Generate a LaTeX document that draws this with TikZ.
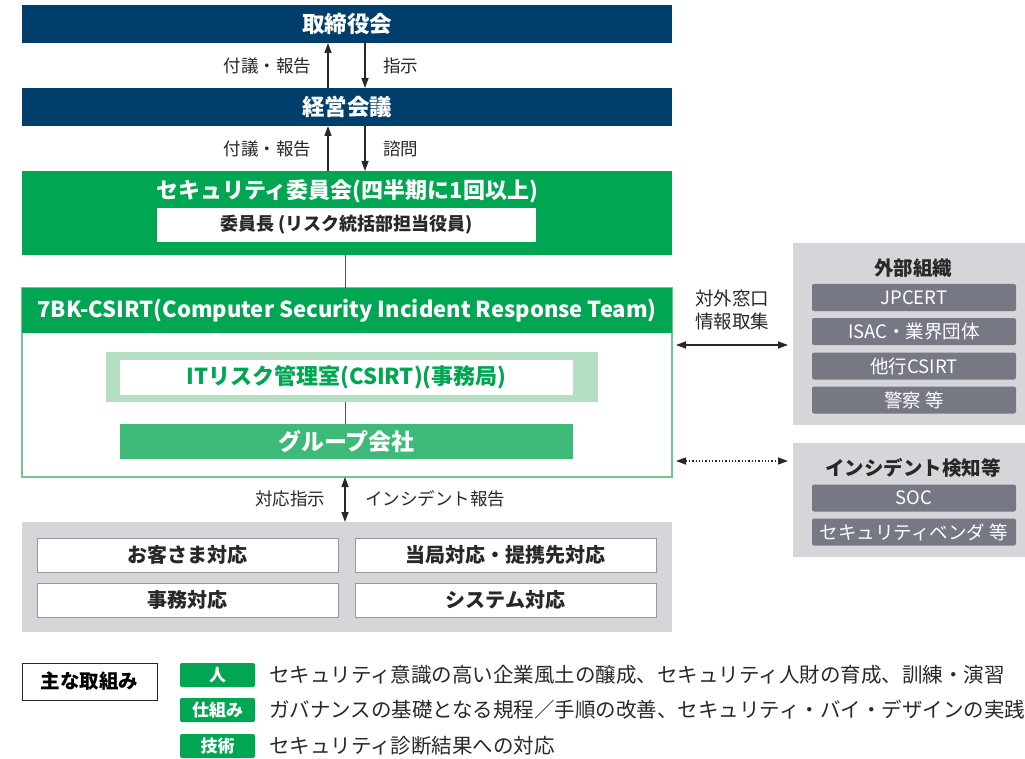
\documentclass[tikz,border=0pt]{standalone}
\usepackage{fontspec}
\setmainfont{Noto Sans CJK JP}
\usetikzlibrary{arrows.meta}

\definecolor{navy}{RGB}{0,63,108}
\definecolor{sgreen}{RGB}{0,166,81}
\definecolor{lgreen}{RGB}{110,200,145}
\definecolor{pgreen}{RGB}{181,223,195}
\definecolor{mgreen}{RGB}{61,186,120}
\definecolor{bggray}{RGB}{214,213,218}
\definecolor{itemgray}{RGB}{118,120,131}
\definecolor{boxline}{RGB}{150,150,158}
\definecolor{txt}{RGB}{40,40,40}

\begin{document}
\begin{tikzpicture}[x=1pt, y=-1pt,
    every node/.style={inner sep=0pt, outer sep=0pt},
    bar/.style={fill=navy, text=white, font=\fontsize{22.5}{25}\selectfont\bfseries,
        minimum width=650pt, minimum height=38pt},
    lbl/.style={text=txt, font=\fontsize{17.5}{20}\selectfont},
    arr/.style={draw=txt, line width=1.3pt, -{Triangle[length=10pt,width=7pt]}},
    arrtwo/.style={draw=txt, line width=1.3pt,
        {Triangle[length=10pt,width=7pt]}-{Triangle[length=10pt,width=7pt]}},
    link/.style={draw=txt!80, line width=1pt},
    graybox/.style={fill=bggray},
    respitem/.style={draw=boxline, line width=0.8pt, fill=white, text=txt,
        font=\fontsize{20}{22}\selectfont\bfseries, minimum width=301pt, minimum height=34pt},
    extitem/.style={fill=itemgray, rounded corners=2pt, text=white,
        font=\fontsize{18.5}{21}\selectfont, minimum width=204pt, minimum height=27pt},
    exttitle/.style={text=txt, font=\fontsize{19.5}{22}\selectfont\bfseries},
    tag/.style={fill=sgreen, rounded corners=2pt, text=white,
        font=\fontsize{17}{19}\selectfont\bfseries, minimum width=75pt, minimum height=24pt},
    legtext/.style={anchor=west, text=txt, font=\fontsize{20.5}{23}\selectfont}]
    \useasboundingbox (0,0) rectangle (1025,759);

    % 取締役会・経営会議
    \node[bar] (board) at (347,24) {取締役会};
    \node[bar] (mgmt) at (347,107) {経営会議};
    \draw[arr] ([xshift=-19pt]mgmt.north) -- ([xshift=-19pt]board.south);
    \draw[arr] ([xshift=18pt]board.south) -- ([xshift=18pt]mgmt.north);
    \node[lbl, anchor=east] (upA) at (311,66) {付議・報告};
    \node[lbl, anchor=west] (downA) at (383,66) {指示};

    % セキュリティ委員会
    \node[fill=sgreen, minimum width=650pt, minimum height=84pt] (cmte) at (347,213) {};
    \node[text=white, font=\fontsize{22}{24}\selectfont\bfseries] (cmteT) at (347,191) {セキュリティ委員会(四半期に1回以上)};
    \node[fill=white, text=txt, font=\fontsize{18}{20}\selectfont\bfseries,
        minimum width=379pt, minimum height=34pt] (chair) at (346.5,225) {委員長 (リスク統括部担当役員)};
    \draw[arr] ([xshift=-19pt]cmte.north) -- ([xshift=-19pt]mgmt.south);
    \draw[arr] ([xshift=18pt]mgmt.south) -- ([xshift=18pt]cmte.north);
    \node[lbl, anchor=east] (upB) at (311,149) {付議・報告};
    \node[lbl, anchor=west] (downB) at (383,149) {諮問};

    % 7BK-CSIRT
    \node[draw=lgreen, line width=1.2pt, fill=white, minimum width=650pt, minimum height=189pt] (csirt) at (347,382.5) {};
    \node[fill=sgreen, text=white, font=\fontsize{22}{24}\selectfont\bfseries,
        minimum width=650pt, minimum height=45pt] (csirtH) at (347,310.5) {7BK-CSIRT(Computer Security Incident Response Team)};
    \draw[link] ([xshift=-2pt]cmte.south) -- ([xshift=-2pt]csirtH.north);

    \node[fill=pgreen, minimum width=492pt, minimum height=50pt] (itO) at (352,377) {};
    \node[fill=white, text=sgreen, font=\fontsize{22}{24}\selectfont\bfseries,
        minimum width=453pt, minimum height=35pt] (itrisk) at (346.5,377.5) {ITリスク管理室(CSIRT)(事務局)};
    \node[fill=mgreen, text=white, font=\fontsize{23}{25}\selectfont\bfseries,
        minimum width=453pt, minimum height=35pt] (group) at (346.5,441.5) {グループ会社};
    \draw[link] ([xshift=-7pt]itO.south) -- ([xshift=-1.5pt]group.north);

    % 対応部署
    \node[graybox, minimum width=650pt, minimum height=110pt] (resp) at (347,577) {};
    \draw[arrtwo] ([xshift=-2pt]csirt.south) -- ([xshift=-2pt]resp.north);
    \node[lbl, anchor=east] (respA) at (325,499) {対応指示};
    \node[lbl, anchor=west] (respB) at (365,499) {インシデント報告};
    \node[respitem] (cust) at (187.5,555) {お客さま対応};
    \node[respitem] (auth) at (505.5,555) {当局対応・提携先対応};
    \node[respitem] (office) at (187.5,600) {事務対応};
    \node[respitem] (system) at (505.5,600) {システム対応};

    % 外部組織
    \node[graybox, minimum width=232pt, minimum height=182pt] (ext) at (909,334) {};
    \node[exttitle] (extT) at (913,268) {外部組織};
    \node[extitem] (jpcert) at (914,297.5) {JPCERT};
    \node[extitem] (isac) at (914,331.5) {ISAC・業界団体};
    \node[extitem] (bank) at (914,366) {他行CSIRT};
    \node[extitem] (police) at (914,400) {警察 等};
    \coordinate (extL) at (676,345);
    \coordinate (extR) at (788,345);
    \draw[arrtwo] (extL) -- (extR);
    \node[lbl, font=\fontsize{18.5}{21}\selectfont] (extA) at (732,298) {対外窓口};
    \node[lbl, font=\fontsize{18.5}{21}\selectfont] (extB) at (732,321) {情報取集};

    % インシデント検知等
    \node[graybox, minimum width=232pt, minimum height=114pt] (inc) at (909,500) {};
    \node[exttitle] (incT) at (913,468) {インシデント検知等};
    \node[extitem] (soc) at (914,498) {SOC};
    \node[extitem] (vendor) at (914,532) {セキュリティベンダ 等};
    \coordinate (incL) at (676,461);
    \coordinate (incR) at (788,461);
    \draw[arrtwo, dotted] (incL) -- (incR);

    % 主な取組み
    \node[draw=txt, line width=1pt, fill=white, text=black, font=\fontsize{19.5}{22}\selectfont\bfseries,
        minimum width=135pt, minimum height=37pt] (key) at (89.5,681.5) {主な取組み};
    \node[tag] (people) at (217.5,675) {人};
    \node[tag] (frame) at (217.5,710) {仕組み};
    \node[tag] (tech) at (217.5,746) {技術};
    \node[legtext] (peopleT) at (269,675) {セキュリティ意識の高い企業風土の醸成、セキュリティ人財の育成、訓練・演習};
    \node[legtext] (frameT) at (269,710) {ガバナンスの基礎となる規程／手順の改善、セキュリティ・バイ・デザインの実践};
    \node[legtext] (techT) at (269,746) {セキュリティ診断結果への対応};
\end{tikzpicture}
\end{document}
